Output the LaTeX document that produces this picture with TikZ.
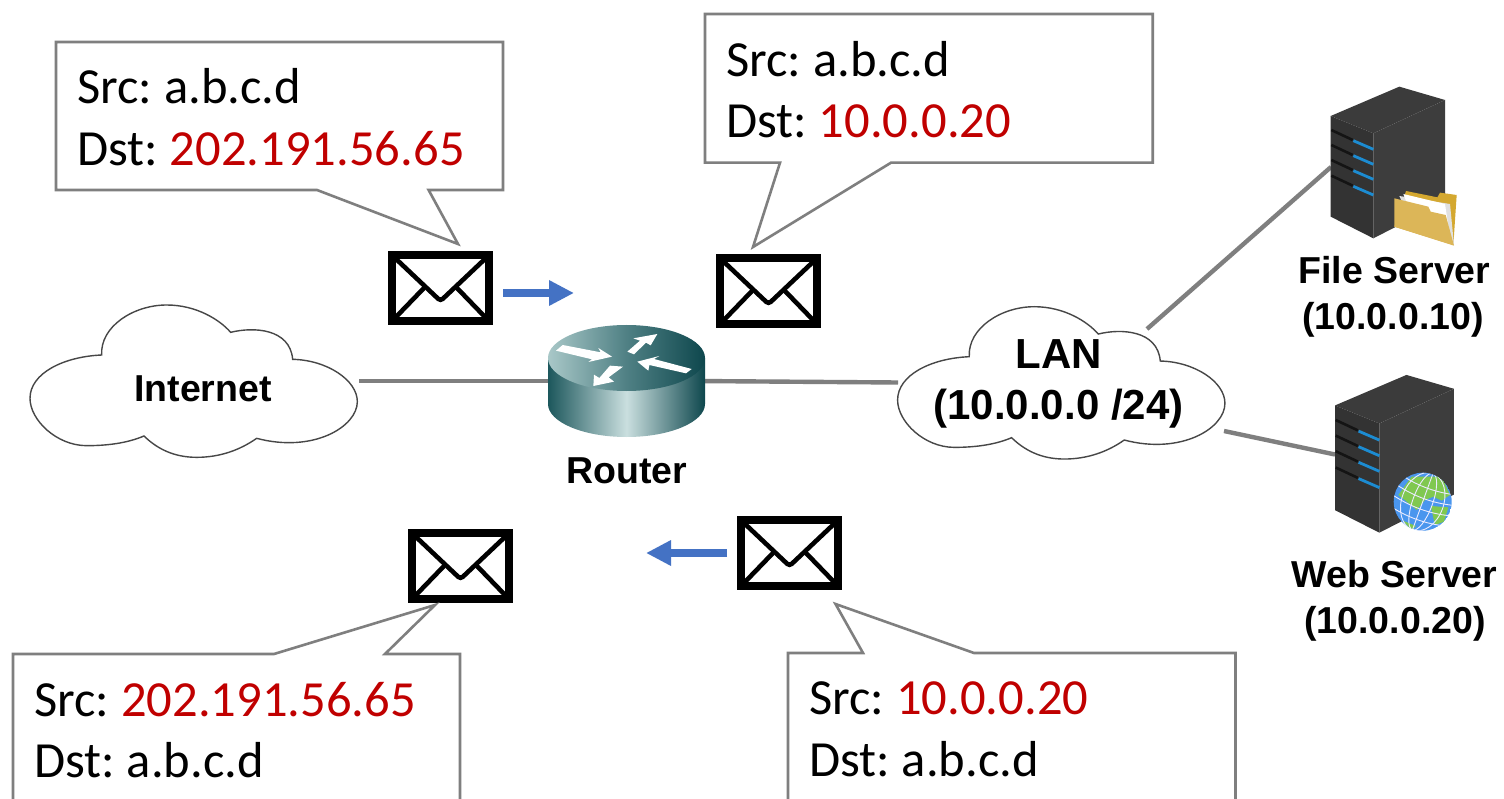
\documentclass[tikz,border=0pt]{standalone}
\usepackage{fontspec}
\usetikzlibrary{arrows.meta}
\newfontfamily\calloutfont{Carlito}[WordSpace=0.72]
\newfontfamily\labelfont{Liberation Sans}
\definecolor{linkgray}{HTML}{7F7F7F}
\definecolor{boxgray}{HTML}{7F7F7F}
\definecolor{alertred}{HTML}{C00000}
\definecolor{flowblue}{HTML}{4472C4}
\definecolor{tealdark}{HTML}{1C575C}
\definecolor{tealdeep}{HTML}{0E474D}
\definecolor{teallight}{HTML}{CADFDF}
\definecolor{tealtop}{HTML}{A9C8C8}
\definecolor{tealmid}{HTML}{4F8084}
\tikzset{
  x=1pt,y=-1pt,
  every node/.style={inner sep=0pt,outer sep=0pt},
  link/.style={draw=linkgray,line width=4.4pt},
  flow/.style={draw=flowblue,line width=8pt,-{Triangle[length=25pt,width=24pt]}},
  calloutbox/.style={draw=boxgray,line width=2.6pt,fill=white,line join=miter},
  callouttext/.style={anchor=base west,font=\calloutfont\fontsize{50.6}{58}\selectfont,text=black},
  boldlabel/.style={anchor=base,font=\labelfont\bfseries\fontsize{37.5}{44}\selectfont,text=black},
  lanlabel/.style={anchor=base,font=\labelfont\bfseries\fontsize{42}{48}\selectfont,text=black},
  cloudoutline/.pic={
    \draw[draw=black!72,line width=1.4pt,fill=white]
      (245,165) .. controls (240,80) and (340,15) .. (440,15)
      .. controls (530,15) and (600,60) .. (632,97)
      .. controls (700,80) and (810,85) .. (818,178)
      .. controls (920,180) and (1012,240) .. (1012,305)
      .. controls (1012,380) and (880,460) .. (710,415)
      .. controls (660,450) and (600,472) .. (530,472)
      .. controls (460,472) and (410,445) .. (372,408)
      .. controls (320,430) and (260,437) .. (200,437)
      .. controls (110,437) and (30,360) .. (30,295)
      .. controls (30,220) and (130,170) .. (245,165) -- cycle;
  },
  envelope/.pic={
    \fill[black] (0,0) rectangle (105,74);
    \fill[white] (8,8) rectangle (97,66);
    \draw[black,line width=4.6pt,rounded corners=3pt,line cap=butt] (7,7) -- (52.5,50) -- (98,7);
    \draw[black,line width=4.6pt,line cap=butt] (7,67) -- (36,37) (98,67) -- (69,37);
  },
  serverbox/.pic={
    \fill[black!77] (152,108) -- (358,20) -- (495,60) -- (280,160) -- cycle;
    \fill[black!76] (280,160) -- (495,60) -- (495,365) -- (280,475) -- cycle;
    \fill[black!80] (152,108) -- (280,160) -- (280,475) -- (152,410) -- cycle;
    \foreach \yy in {150,195,240,287}{
      \draw[black!92,line width=2.6pt] (154,\yy) -- (218,\yy+30);
      \draw[color={rgb,255:red,28;green,140;blue,210},line width=2.8pt] (220,\yy+32) -- (280,\yy+58);
    }
  },
}
\begin{document}
\begin{tikzpicture}
\useasboundingbox (0,0) rectangle (1504,799);
\fill[white] (0,0) rectangle (1504,799);

% anchors of the links
\coordinate (internetE) at (359,381);
\coordinate (routerW) at (560,381);
\coordinate (routerE) at (695,381);
\coordinate (lanW) at (898,382.5);
\coordinate (lanNE) at (1147,329);
\coordinate (lanSE) at (1224,431);
\coordinate (fileW) at (1331,167);
\coordinate (webW) at (1335,454.5);
\draw[link] (internetE) -- (routerW);
\draw[link] (routerE) -- (lanW);
\draw[link] (lanNE) -- (fileW);
\draw[link] (lanSE) -- (webW);

% clouds
\pic[scale=1/3] at (20,300) {cloudoutline};
\node[boldlabel] (internet) at (203,401.5) {Internet};
\pic[scale=1/3] at (887.6,301.7) {cloudoutline};
\node[lanlabel] (lan) at (1058.5,368) {LAN};
\node[lanlabel] (lansub) at (1058.5,419) {(10.0.0.0 /24)};

% router
\shade[left color=tealdark,right color=tealdeep,middle color=teallight]
  (548,358) -- (548,404) .. controls (548,422) and (583,437) .. (626.5,437)
  .. controls (670,437) and (705,422) .. (705,404) -- (705,358) -- cycle;
\shade[left color=tealtop,right color=tealdeep,middle color=tealmid]
  (626.5,358) ellipse[x radius=78.5,y radius=33];
\begin{scope}[shift={(530,320)},scale=1/3]
  \fill[white] (78,92) -- (98,75) -- (212,97) -- (205,84) -- (246,110) -- (175,126) -- (186,118) -- cycle;
  \fill[white] (292,95) -- (330,62) -- (310,55) -- (382,42) -- (362,76) -- (348,68) -- (312,103) -- cycle;
  \fill[white] (485,147) -- (468,160) -- (358,135) -- (355,152) -- (322,125) -- (388,108) -- (372,117) -- cycle;
  \fill[white] (240,137) -- (279,140) -- (236,172) -- (252,185) -- (190,198) -- (192,164) -- (208,174) -- cycle;
\end{scope}
\node[boldlabel] (routerlabel) at (627,483) {Router};

% file server
\pic[scale=1/3] at (1280,80) {serverbox};
\begin{scope}[shift={(1280,80)},scale=1/3]
  \fill[color={rgb,255:red,212;green,168;blue,48}] (378,333) -- (472,352) -- (480,338) -- (530,345) -- (520,495) -- (343,440) -- cycle;
  \fill[black!12] (358,348) -- (510,372) -- (522,495) -- (400,440) -- cycle;
  \fill[white] (370,342) -- (495,372) -- (510,470) -- (400,420) -- cycle;
  \fill[color={rgb,255:red,220;green,182;blue,88}] (343,355) -- (445,380) -- (452,395) -- (497,405) -- (522,497) -- (343,440) -- cycle;
\end{scope}
\node[boldlabel] (fileserver) at (1394.5,284) {File Server};
\node[boldlabel] (fileip) at (1393,330) {(10.0.0.10)};

% web server
\pic[scale=0.3467] at (1282.3,368) {serverbox};
\begin{scope}
  \clip (1422.7,501.7) circle[radius=29];
  \fill[color={rgb,255:red,74;green,150;blue,238}] (1422.7,501.7) circle[radius=29];
  \begin{scope}[shift={(1300,370)},scale=1/3]
    \fill[color={rgb,255:red,128;green,200;blue,80}] (295,375) -- (335,320) -- (425,320) -- (450,375) -- (425,392) -- (400,380) -- (375,390) -- (350,420) -- (320,395) -- cycle;
    \fill[color={rgb,255:red,128;green,200;blue,80}] (392,408) -- (445,412) -- (432,455) -- (405,465) -- cycle;
    \fill[color={rgb,255:red,128;green,200;blue,80}] (308,452) -- (348,468) -- (335,480) -- cycle;
  \end{scope}
  \begin{scope}[shift={(1422.7,501.7)},rotate=-20]
    \foreach \rr in {10,21}{\draw[white!92!blue,line width=0.9pt] (0,0) ellipse[x radius=\rr,y radius=30];}
    \draw[white!92!blue,line width=0.9pt] (0,-30) -- (0,30);
    \foreach \yy in {-18,-7,4,15}{\draw[white!92!blue,line width=0.9pt] (-30,\yy) .. controls (-10,\yy+5) and (10,\yy+5) .. (30,\yy);}
  \end{scope}
\end{scope}
\node[boldlabel] (webserver) at (1394.5,587) {Web Server};
\node[boldlabel] (webip) at (1395,633) {(10.0.0.20)};

% envelopes
\pic at (388,251) {envelope};
\pic at (716,254) {envelope};
\pic at (408,529) {envelope};
\pic at (737,516) {envelope};

% flow arrows
\coordinate (flowAfrom) at (503,293);
\coordinate (flowAto) at (574,293);
\coordinate (flowBfrom) at (727,553);
\coordinate (flowBto) at (646,553);
\draw[flow] (flowAfrom) -- (flowAto);
\draw[flow] (flowBfrom) -- (flowBto);

% callouts
\draw[calloutbox] (56,42) -- (503,42) -- (503,190) -- (428.6,190) -- (458,244) -- (317,190) -- (56,190) -- cycle;
\node[callouttext] (boxAsrc) at (77,104) {Src: a.b.c.d};
\node[callouttext] (boxAdst) at (77,165.5) {Dst: \textcolor{alertred}{202.191.56.65}};

\draw[calloutbox] (705,14) -- (1152.7,14) -- (1152.7,162.7) -- (891,162.7) -- (753,247) -- (780,162.7) -- (705,162.7) -- cycle;
\node[callouttext] (boxBsrc) at (726,76.5) {Src: a.b.c.d};
\node[callouttext] (boxBdst) at (726,137.5) {Dst: \textcolor{alertred}{10.0.0.20}};

\fill[white] (13,654) -- (274,654) -- (435,605) -- (385,654) -- (460,654) -- (460,799) -- (13,799) -- cycle;
\draw[calloutbox,fill=none] (13,801) -- (13,654) -- (274,654) -- (435,605) -- (385,654) -- (460,654) -- (460,801);
\node[callouttext] (boxCsrc) at (34,716.5) {Src: \textcolor{alertred}{202.191.56.65}};
\node[callouttext] (boxCdst) at (34,777.5) {Dst: a.b.c.d};

\fill[white] (788,653) -- (863,653) -- (835.5,604) -- (974,653) -- (1235.5,653) -- (1235.5,799) -- (788,799) -- cycle;
\draw[calloutbox,fill=none] (788,801) -- (788,653) -- (863,653) -- (835.5,604) -- (974,653) -- (1235.5,653) -- (1235.5,801);
\node[callouttext] (boxDsrc) at (809,714.5) {Src: \textcolor{alertred}{10.0.0.20}};
\node[callouttext] (boxDdst) at (809,776.5) {Dst: a.b.c.d};
\end{tikzpicture}
\end{document}
